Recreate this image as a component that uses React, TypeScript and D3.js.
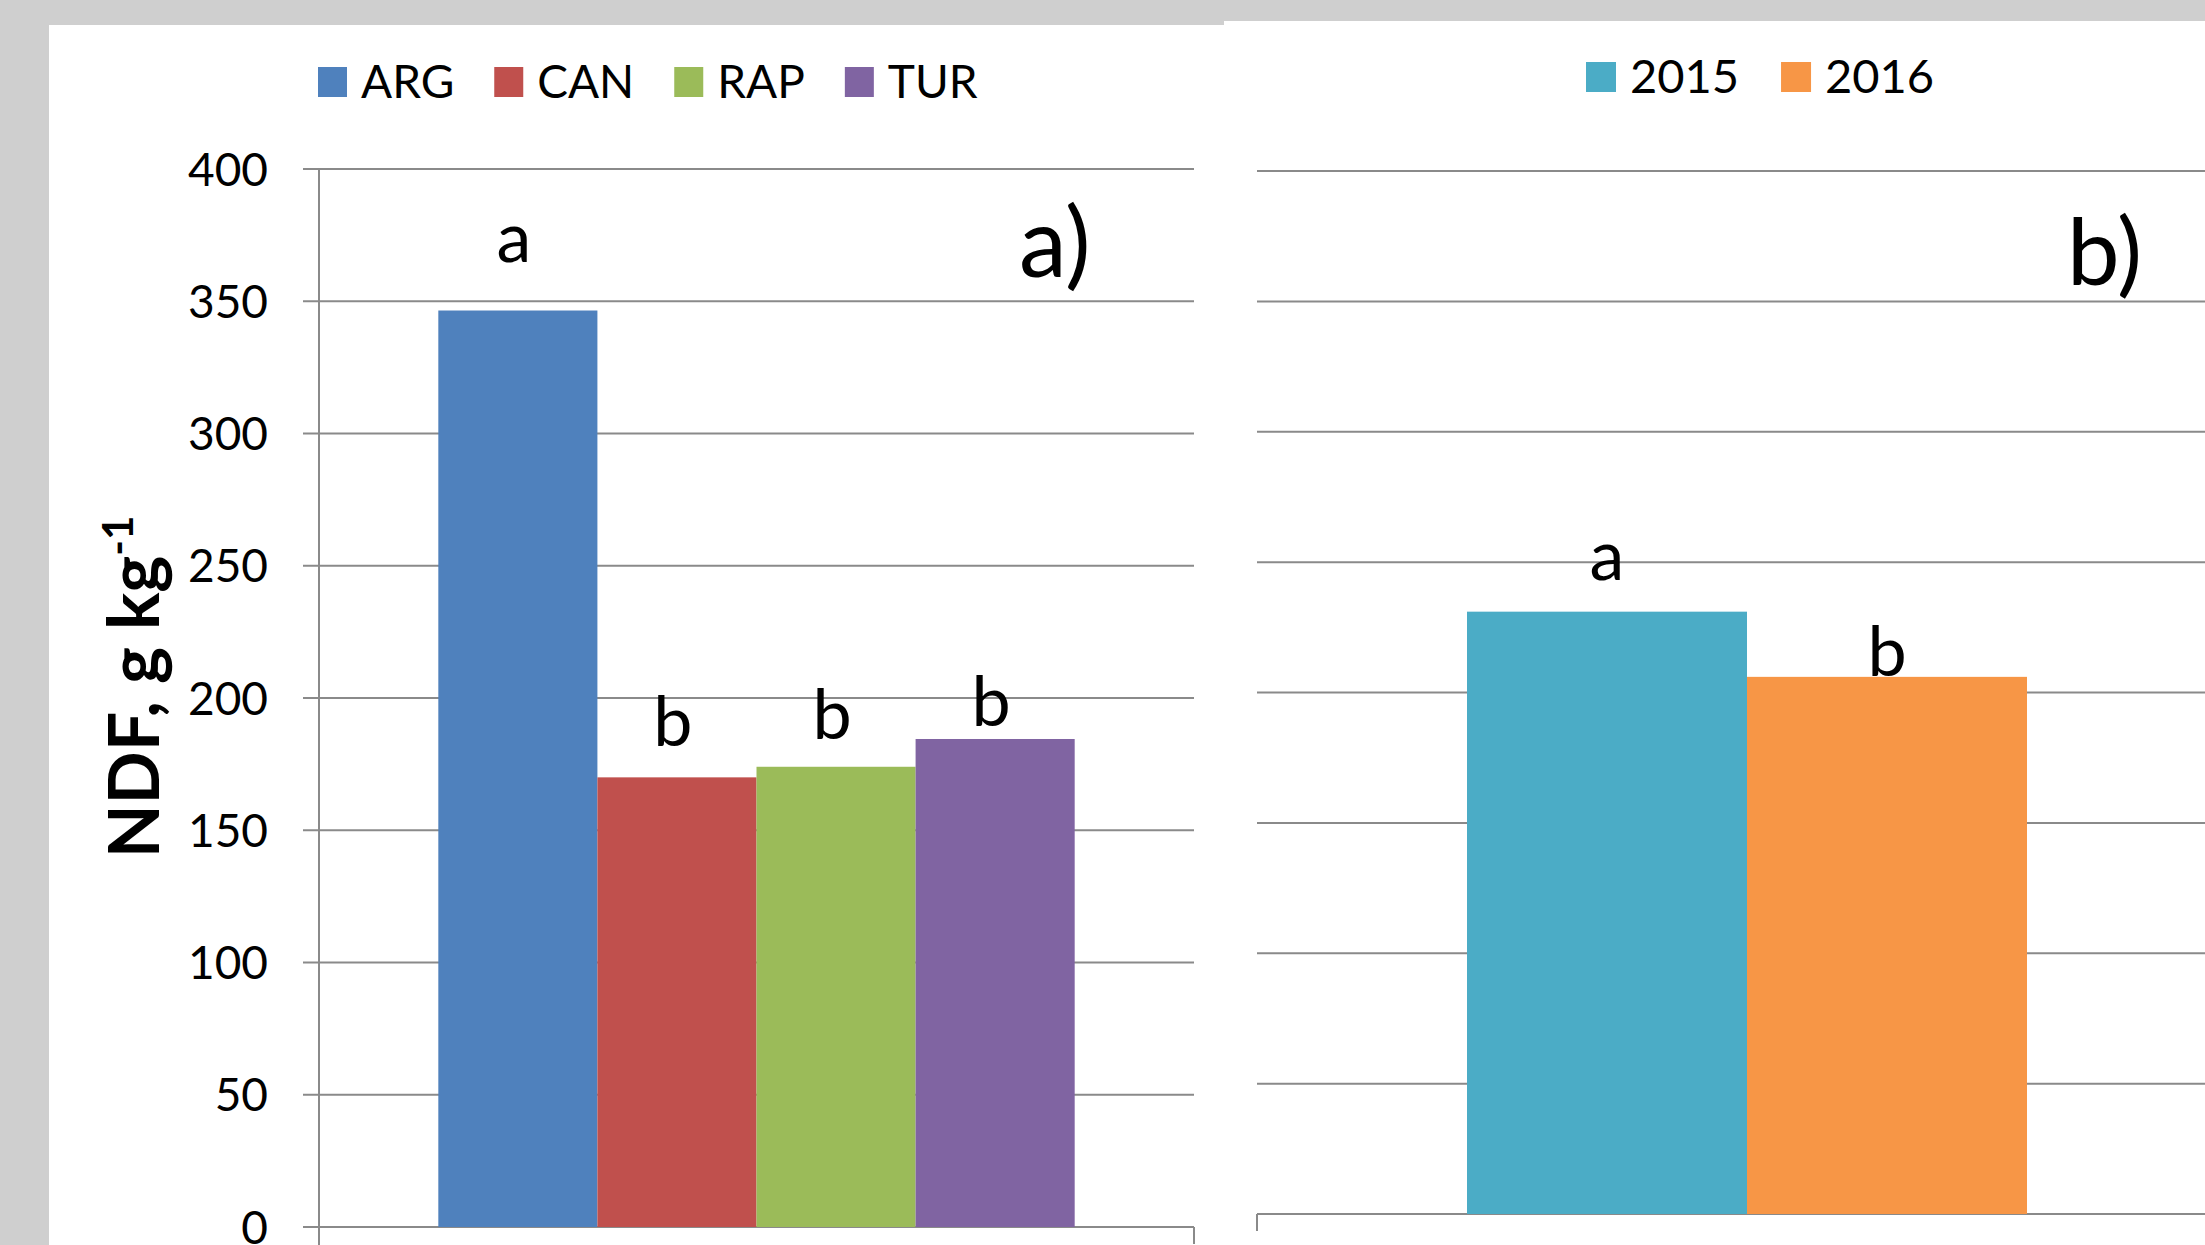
import React, { useEffect, useRef } from 'react'
import * as d3 from 'd3'

// panel a: forage species
const speciesCategories = ['ARG', 'CAN', 'RAP', 'TUR']
const speciesNdf = [346.5, 170, 174, 184.5]
const speciesLetters = ['a', 'b', 'b', 'b']
const speciesLetterAt = [365, 182, 184.5, 189.5]
const speciesColors = ['#4F81BD', '#C0504D', '#9BBB59', '#8064A2']

// panel b: years
const yearCategories = ['2015', '2016']
const yearNdf = [231, 206]
const yearLetters = ['a', 'b']
const yearLetterAt = [243, 206.5]
const yearColors = ['#4BACC6', '#F79646']

const yTicks = [0, 50, 100, 150, 200, 250, 300, 350, 400]

const W = 2205
const H = 1245
const FONT = 'Lato, "Open Sans", sans-serif'
const GRID = '#8a8a8a'

export default function App() {
  const svgRef = useRef<SVGSVGElement>(null)

  useEffect(() => {
    if (!svgRef.current) return
    const svg = d3.select(svgRef.current)
    svg.selectAll('*').remove()

    // background + panels
    svg.append('rect').attr('width', W).attr('height', H).attr('fill', '#cfcfcf')
    svg.append('rect').attr('x', 49).attr('y', 25).attr('width', 1175).attr('height', H - 25).attr('fill', '#fff')
    svg.append('rect').attr('x', 1224).attr('y', 21).attr('width', W - 1224).attr('height', H - 21).attr('fill', '#fff')

    // ---------- panel a ----------
    const xA = d3.scaleBand<string>().domain(speciesCategories).range([319, 1194]).paddingInner(0).paddingOuter(0.75)
    const yA = d3.scaleLinear().domain([0, 400]).range([1227, 169])
    const ga = svg.append('g')

    ga.selectAll('line.grid')
      .data(yTicks)
      .enter().append('line')
      .attr('x1', 303).attr('x2', 1194)
      .attr('y1', d => yA(d)).attr('y2', d => yA(d))
      .attr('stroke', GRID).attr('stroke-width', 2)

    ga.append('line').attr('x1', 319).attr('x2', 319).attr('y1', yA(400)).attr('y2', H)
      .attr('stroke', GRID).attr('stroke-width', 2)
    ga.append('line').attr('x1', 1194).attr('x2', 1194).attr('y1', yA(0)).attr('y2', yA(0) + 17)
      .attr('stroke', GRID).attr('stroke-width', 2)

    ga.selectAll('text.tick')
      .data(yTicks)
      .enter().append('text')
      .attr('x', 268).attr('y', d => yA(d))
      .attr('dy', '0.36em')
      .attr('text-anchor', 'end')
      .style('font-family', FONT).style('font-size', '46px').attr('fill', '#000')
      .text(d => d)

    ga.selectAll('rect.bar')
      .data(speciesCategories)
      .enter().append('rect')
      .attr('x', d => xA(d)!)
      .attr('width', xA.bandwidth())
      .attr('y', (d, i) => yA(speciesNdf[i]))
      .attr('height', (d, i) => yA(0) - yA(speciesNdf[i]))
      .attr('fill', (d, i) => speciesColors[i])

    ga.selectAll('text.letter')
      .data(speciesCategories)
      .enter().append('text')
      .attr('x', d => xA(d)! + xA.bandwidth() / 2 - 4)
      .attr('y', (d, i) => yA(speciesLetterAt[i]))
      .attr('text-anchor', 'middle')
      .style('font-family', FONT).style('font-size', '70px')
      .text((d, i) => speciesLetters[i])

    ga.append('text').attr('x', 1019).attr('y', 277)
      .style('font-family', FONT).style('font-size', '96px')
      .text('a)')

    // y axis title
    const title = ga.append('text')
      .attr('transform', 'translate(159,687) rotate(-90)')
      .attr('text-anchor', 'middle')
      .style('font-family', FONT).style('font-size', '70px').style('font-weight', 'bold')
    title.append('tspan').text('NDF, g kg')
    title.append('tspan').attr('dy', -26).style('font-size', '42px').text('-1')

    // legend a
    const legA = ga.append('g')
    let lx = 318
    speciesCategories.forEach((c, i) => {
      legA.append('rect').attr('x', lx).attr('y', 67).attr('width', 29).attr('height', 30).attr('fill', speciesColors[i])
      const t = legA.append('text').attr('x', lx + 43).attr('y', 98)
        .style('font-family', FONT).style('font-size', '46px').text(c)
      const tw = (t.node() as SVGTextElement).getComputedTextLength()
      lx = lx + 43 + tw + 40
    })

    // ---------- panel b ----------
    const xB = d3.scaleBand<string>().domain(yearCategories).range([1257, 2237]).paddingInner(0).paddingOuter(0.75)
    const yB = d3.scaleLinear().domain([0, 400]).range([1214, 171])
    const gb = svg.append('g')

    gb.selectAll('line.grid')
      .data(yTicks)
      .enter().append('line')
      .attr('x1', 1257).attr('x2', W)
      .attr('y1', d => yB(d)).attr('y2', d => yB(d))
      .attr('stroke', GRID).attr('stroke-width', 2)

    gb.append('line').attr('x1', 1257).attr('x2', 1257).attr('y1', yB(0)).attr('y2', yB(0) + 17)
      .attr('stroke', GRID).attr('stroke-width', 2)

    gb.selectAll('rect.bar')
      .data(yearCategories)
      .enter().append('rect')
      .attr('x', d => xB(d)!)
      .attr('width', xB.bandwidth())
      .attr('y', (d, i) => yB(yearNdf[i]))
      .attr('height', (d, i) => yB(0) - yB(yearNdf[i]))
      .attr('fill', (d, i) => yearColors[i])

    gb.selectAll('text.letter')
      .data(yearCategories)
      .enter().append('text')
      .attr('x', d => xB(d)! + xB.bandwidth() / 2)
      .attr('y', (d, i) => yB(yearLetterAt[i]))
      .attr('text-anchor', 'middle')
      .style('font-family', FONT).style('font-size', '70px')
      .text((d, i) => yearLetters[i])

    gb.append('text').attr('x', 2067).attr('y', 285)
      .style('font-family', FONT).style('font-size', '94px')
      .text('b)')

    // legend b
    const legB = gb.append('g')
    let bx = 1586
    yearCategories.forEach((c, i) => {
      legB.append('rect').attr('x', bx).attr('y', 62).attr('width', 30).attr('height', 30).attr('fill', yearColors[i])
      const t = legB.append('text').attr('x', bx + 44).attr('y', 93)
        .style('font-family', FONT).style('font-size', '47px').text(c)
      const tw = (t.node() as SVGTextElement).getComputedTextLength()
      bx = bx + 44 + tw + 42
    })
  }, [])

  return (
    <svg
      ref={svgRef}
      width={W}
      height={H}
      style={{ position: 'absolute', left: 0, top: 0, display: 'block' }}
    />
  )
}
